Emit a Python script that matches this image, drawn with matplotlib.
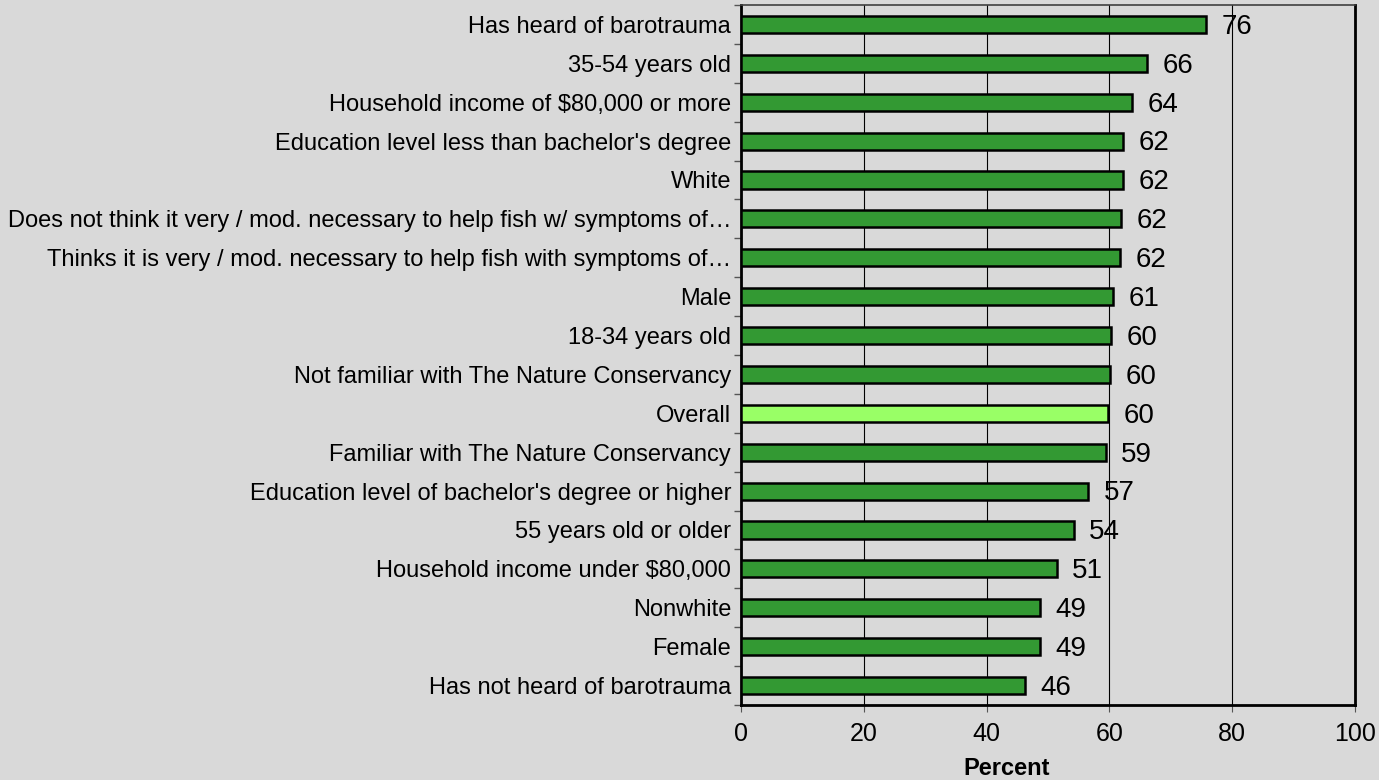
import matplotlib.pyplot as plt
import numpy as np

plt.rcParams['font.family'] = ['Liberation Sans', 'DejaVu Sans']

# categories, top to bottom
categories = [
    "Has heard of barotrauma",
    "35-54 years old",
    "Household income of $80,000 or more",
    "Education level less than bachelor's degree",
    "White",
    "Does not think it very / mod. necessary to help fish w/ symptoms of\u2026",
    "Thinks it is very / mod. necessary to help fish with symptoms of\u2026",
    "Male",
    "18-34 years old",
    "Not familiar with The Nature Conservancy",
    "Overall",
    "Familiar with The Nature Conservancy",
    "Education level of bachelor's degree or higher",
    "55 years old or older",
    "Household income under $80,000",
    "Nonwhite",
    "Female",
    "Has not heard of barotrauma",
]
values = [75.7, 66.1, 63.7, 62.2, 62.2, 61.9, 61.7, 60.6, 60.3, 60.1,
          59.8, 59.4, 56.6, 54.2, 51.4, 48.7, 48.7, 46.3]
highlight = "Overall"
xticks = [0, 20, 40, 60, 80, 100]

bg = "#d9d9d9"
fig = plt.figure(figsize=(13.79, 7.8), dpi=100, facecolor=bg)
ax = fig.add_axes([0.5373, 0.0962, 0.4453, 0.8974], facecolor=bg)

y = np.arange(len(categories))
colors = ["#99ff66" if c == highlight else "#339933" for c in categories]
ax.barh(y, values, height=0.44, color=colors, edgecolor="black", linewidth=1.8, zorder=3)

# value labels, nudged a bit below bar centre like the original
for yi, v in zip(y, values):
    ax.text(v + 2.5, yi + 0.06, f"{v:.0f}", va="center", ha="left", fontsize=20, zorder=4)

ax.set_ylim(len(categories) - 0.5, -0.5)
ax.set_xlim(0, 100)
ax.set_yticks(y)
ax.set_yticklabels(categories, fontsize=17)
ax.set_yticks(np.arange(len(categories) + 1) - 0.5, minor=True)
ax.tick_params(axis="y", which="major", length=0, pad=7)
ax.tick_params(axis="y", which="minor", length=5, width=1, color="#555555")
ax.set_xticks(xticks)
ax.tick_params(axis="x", labelsize=18, length=5, pad=7, color="#555555")
ax.set_xlabel("Percent", fontsize=17, fontweight="bold")
ax.xaxis.set_label_coords(0.433, -0.075)

ax.grid(axis="x", color="black", linewidth=0.8, zorder=1)
ax.set_axisbelow(True)
for side in ["left", "bottom", "right"]:
    ax.spines[side].set_linewidth(2)
    ax.spines[side].set_color("black")
ax.spines["top"].set_linewidth(1.2)
ax.spines["top"].set_color("#404040")

fig.savefig("out.png", dpi=100, facecolor=bg)
